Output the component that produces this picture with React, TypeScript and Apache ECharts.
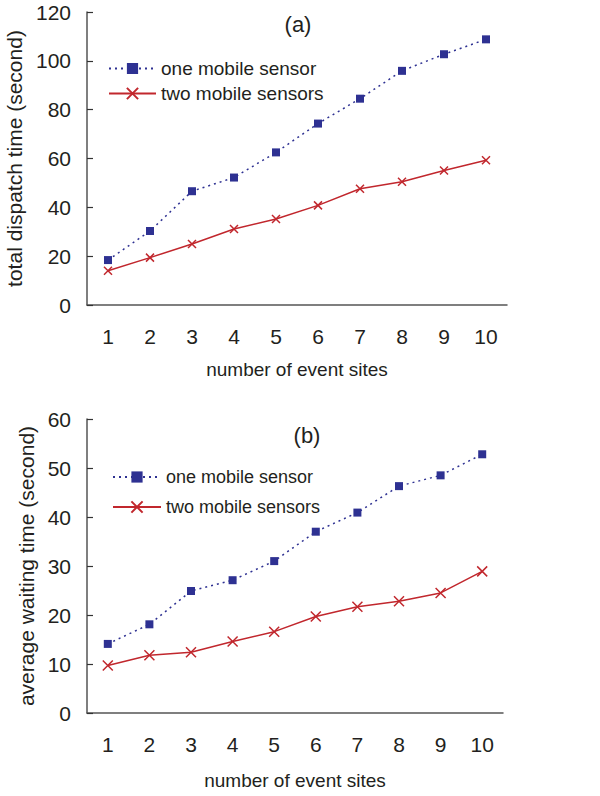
import React, { useEffect, useRef } from "react";
import * as echarts from "echarts";

const categories = ["1", "2", "3", "4", "5", "6", "7", "8", "9", "10"];
const oneDispatch = [18.4, 30.3, 46.6, 52.2, 62.5, 74.3, 84.5, 95.9, 102.7, 108.8];
const twoDispatch = [14.0, 19.4, 25.0, 31.1, 35.2, 40.8, 47.6, 50.5, 55.1, 59.3];
const oneWaiting = [14.1, 18.1, 24.9, 27.1, 31.0, 37.0, 40.9, 46.3, 48.5, 52.8];
const twoWaiting = [9.7, 11.8, 12.4, 14.6, 16.6, 19.7, 21.7, 22.8, 24.5, 28.9];

const ONE = "one mobile sensor";
const TWO = "two mobile sensors";
const BLUE = "#2e3192";
const RED = "#c1272d";
const AXIS = "#555555";
const TEXT = "#231f20";
const FONT = "Liberation Sans, Arial, sans-serif";
const XSYM = "path://M0,0L10,10M10,0L0,10";

export default function App() {
  const ref = useRef<HTMLDivElement>(null);
  useEffect(() => {
    document.body.style.margin = "0";
    const chart = echarts.init(ref.current!, null, { renderer: "svg" });
    const xAxis = (gridIndex: number, margin: number, gap: number) => ({
      type: "category",
      gridIndex,
      data: categories,
      boundaryGap: true,
      name: "number of event sites",
      nameLocation: "middle",
      nameGap: gap,
      nameTextStyle: { fontSize: 19, color: TEXT, fontFamily: FONT },
      axisLine: { lineStyle: { color: AXIS, width: 1.5 } },
      axisTick: { inside: true, length: 6, lineStyle: { color: "#333", width: 1.2 } },
      axisLabel: { fontSize: 21, color: TEXT, fontFamily: FONT, margin },
    });
    const yAxis = (gridIndex: number, max: number, interval: number, name: string, gap: number) => ({
      type: "value",
      gridIndex,
      min: 0,
      max,
      interval,
      name,
      nameLocation: "middle",
      nameGap: gap,
      nameTextStyle: { fontSize: 21, color: TEXT, fontFamily: FONT },
      axisLine: { show: true, lineStyle: { color: AXIS, width: 1.5 } },
      axisTick: { show: true, inside: true, length: 6, lineStyle: { color: "#333", width: 1.2 } },
      axisLabel: { fontSize: 21, color: TEXT, fontFamily: FONT, margin: 16 },
      splitLine: { show: false },
    });
    const oneSeries = (name: string, idx: number, data: number[]) => ({
      type: "line",
      name,
      xAxisIndex: idx,
      yAxisIndex: idx,
      data,
      symbol: "rect",
      symbolSize: 8,
      lineStyle: { color: BLUE, width: 1.5, type: [2, 4] },
      itemStyle: { color: BLUE },
    });
    const twoSeries = (name: string, idx: number, data: number[], size: number) => ({
      type: "line",
      name,
      xAxisIndex: idx,
      yAxisIndex: idx,
      data,
      symbol: XSYM,
      symbolSize: size,
      lineStyle: { color: RED, width: 1.5 },
      itemStyle: { color: RED, borderColor: RED, borderWidth: 1.5 },
    });
    const strip = (n: string) => n.replace("#b", "");
    chart.setOption({
      animation: false,
      grid: [
        { left: 87, top: 12, width: 420, height: 293, outerBoundsMode: "none", containLabel: false },
        { left: 87, top: 419, width: 416, height: 294, outerBoundsMode: "none", containLabel: false },
      ],
      xAxis: [xAxis(0, 21, 55), xAxis(1, 21, 58)],
      yAxis: [
        yAxis(0, 120, 20, "total dispatch time (second)", 53),
        yAxis(1, 60, 10, "average waiting time (second)", 41),
      ],
      title: [
        { text: "(a)", left: 293, top: 8, textAlign: "center", textStyle: { fontSize: 22, fontWeight: "normal", color: TEXT, fontFamily: FONT } },
        { text: "(b)", left: 302, top: 419, textAlign: "center", textStyle: { fontSize: 22, fontWeight: "normal", color: TEXT, fontFamily: FONT } },
      ],
      legend: [
        {
          data: [ONE, TWO],
          orient: "vertical",
          left: 103,
          top: 54,
          itemWidth: 47,
          itemHeight: 14,
          itemGap: 6,
          formatter: strip,
          textStyle: { fontSize: 19, color: TEXT, fontFamily: FONT },
        },
        {
          data: [ONE + "#b", TWO + "#b"],
          orient: "vertical",
          left: 107,
          top: 463,
          itemWidth: 48,
          itemHeight: 14,
          itemGap: 12,
          formatter: strip,
          textStyle: { fontSize: 18, color: TEXT, fontFamily: FONT },
        },
      ],
      series: [
        oneSeries(ONE, 0, oneDispatch),
        twoSeries(TWO, 0, twoDispatch, 8),
        oneSeries(ONE + "#b", 1, oneWaiting),
        twoSeries(TWO + "#b", 1, twoWaiting, 10),
      ],
    });
    return () => chart.dispose();
  }, []);
  return <div ref={ref} style={{ width: 600, height: 796 }} />;
}
